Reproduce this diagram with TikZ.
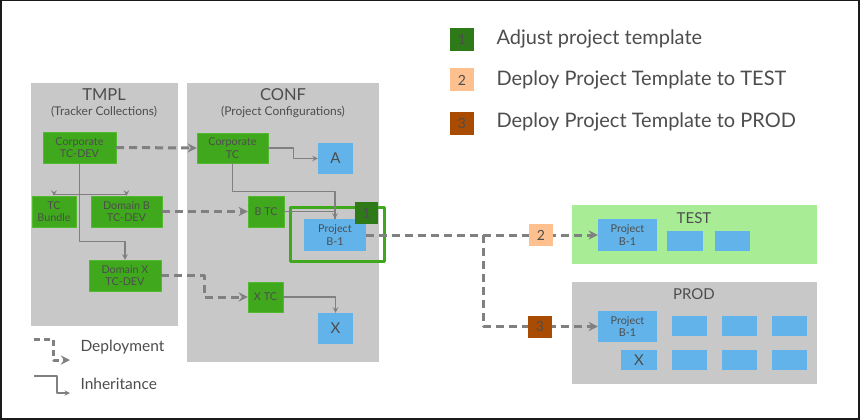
\documentclass[tikz,border=0pt]{standalone}
\usepackage{fontspec}
\setmainfont{Lato}
\definecolor{panelgray}{HTML}{C8C8C8}
\definecolor{tcgreen}{HTML}{40A81C}
\definecolor{tcedge}{HTML}{52B82E}
\definecolor{cfgblue}{HTML}{62B3E9}
\definecolor{testgreen}{HTML}{A8EC95}
\definecolor{stepone}{HTML}{2F7A18}
\definecolor{steptwo}{HTML}{FFC08F}
\definecolor{stepthree}{HTML}{A94C02}
\definecolor{linegray}{HTML}{808080}
\definecolor{txtgray}{HTML}{4D4D4D}
\definecolor{framecol}{HTML}{1A1A1A}
\begin{document}
\begin{tikzpicture}[x=1pt,y=-1pt,line join=round,>=stealth,
	panel/.style={fill=panelgray,draw=none},
	tc/.style={fill=tcgreen,draw=tcedge,text=txtgray,align=center,inner sep=0,font=\fontsize{10.8}{12.5}\selectfont},
	cfg/.style={fill=cfgblue,draw=none,text=txtgray,align=center,inner sep=0,font=\fontsize{10.8}{12.5}\selectfont},
	blk/.style={fill=cfgblue,draw=none,minimum width=35,minimum height=20,inner sep=0},
	badge/.style={draw=none,text=txtgray,inner sep=0,minimum width=24,minimum height=22,font=\fontsize{14}{14}\selectfont},
	dep/.style={draw=linegray,line width=3pt,dash pattern=on 8pt off 5pt},
	inh/.style={draw=linegray,line width=1.4pt},
	ttl/.style={text=txtgray,font=\fontsize{16.5}{16.5}\selectfont},
	sub/.style={text=txtgray,font=\fontsize{12}{12}\selectfont},
	key/.style={anchor=west,text=txtgray,font=\fontsize{20}{20}\selectfont}]
	% frame
	\fill[framecol] (0,0) rectangle (860,420);
	\fill[white] (1.5,1.5) rectangle (857.5,417.5);
	\useasboundingbox (0,0) rectangle (860,420);
	% panels
	\fill[panel] (31,83) rectangle (178,326);
	\fill[panel] (187,83) rectangle (379,362);
	\fill[testgreen] (572,205) rectangle (817,264);
	\fill[panel] (572,282) rectangle (817,384);
	\node[ttl] (tmpl) at (104,95) {TMPL};
	\node[sub] (tmplsub) at (104,112) {(Tracker Collections)};
	\node[ttl] (conf) at (283,95) {CONF};
	\node[sub] (confsub) at (283,112) {(Project Configurations)};
	\node[ttl,font=\fontsize{15}{15}\selectfont] (test) at (694,218) {TEST};
	\node[ttl,font=\fontsize{15}{15}\selectfont] (prod) at (694,294) {PROD};
	% TMPL
	\node[tc,minimum width=73,minimum height=31] (corpdev) at (79.5,147.5) {Corporate\\TC-DEV};
	\node[tc,minimum width=44,minimum height=31] (bundle) at (54,211.5) {TC\\Bundle};
	\node[tc,minimum width=71,minimum height=31] (domb) at (126.5,211.5) {Domain B\\TC-DEV};
	\node[tc,minimum width=72,minimum height=31] (domx) at (125,275.5) {Domain X\\TC-DEV};
	% CONF
	\node[tc,minimum width=71,minimum height=30] (corptc) at (232.5,148) {Corporate\\TC};
	\node[tc,minimum width=36,minimum height=31] (btc) at (266,211.5) {B TC};
	\node[tc,minimum width=35,minimum height=30] (xtc) at (265.5,297) {X TC};
	\node[cfg,minimum width=35,minimum height=31,font=\fontsize{15}{15}\selectfont] (A) at (335.5,158.5) {A};
	\node[cfg,minimum width=62,minimum height=32] (pb) at (335,235) {Project\\B-1};
	\node[cfg,minimum width=35,minimum height=31,font=\fontsize{15}{15}\selectfont] (X) at (335.5,328.5) {X};
	\node[draw=tcgreen,line width=3pt,minimum width=94,minimum height=54,inner sep=0] (focus) at (337,234) {};
	\node[badge,fill=stepone,minimum width=23] (one) at (366.5,213) {1};
	% TEST
	\node[cfg,minimum width=59,minimum height=32] (testpb) at (627.5,235) {Project\\B-1};
	\node[blk,minimum width=36] (testa) at (685,241) {};
	\node[blk] (testb) at (732.5,241) {};
	% PROD
	\node[cfg,minimum width=59,minimum height=31] (prodpb) at (627.5,326.5) {Project\\B-1};
	\node[cfg,minimum width=36,minimum height=20,font=\fontsize{15}{15}\selectfont] (prodx) at (639,360) {X};
	\foreach \i/\xx in {a/689.5,b/739.5,c/789.5}{
		\node[blk] (prod\i1) at (\xx,326) {};
		\node[blk] (prod\i2) at (\xx,360) {};
	}
	% inheritance
	\draw[inh,->] (corpdev.south) -- ++(0,31.5) -| (bundle.north);
	\draw[inh,->] (corpdev.south) -- ++(0,31.5) -| (domb.north);
	\draw[inh,->] (corpdev.south) -- ++(0,78) -| (domx.north);
	\draw[inh,->] (corptc.east) -- ++(25,0) |- (A.west);
	\draw[inh,->] (corptc.south) -- ++(0,28) -| (pb.north);
	\draw[inh] (btc.east) -| (pb.north);
	\draw[inh,->] (xtc.east) -| (X.north);
	% deployment
	\draw[dep,->] (corpdev.east) -- (corptc.west);
	\draw[dep,->] (domb.east) -- (btc.west);
	\draw[dep,->] (domx.east) -- ++(43,0) |- (xtc.west);
	\coordinate (split) at (483,235);
	\draw[dep,->] (pb.east) -- (testpb.west);
	\draw[dep,->] (split) |- (prodpb.west);
	\node[badge,fill=steptwo] (two) at (541,235) {2};
	\node[badge,fill=stepthree] (three) at (540,326.5) {3};
	% legend
	\node[badge,fill=stepone,minimum height=23] (keyone) at (462,39.5) {1};
	\node[badge,fill=steptwo,minimum height=23] (keytwo) at (462,80) {2};
	\node[badge,fill=stepthree,minimum height=23] (keythree) at (462,123) {3};
	\node[key] (adjust) at (493,39) {Adjust project template};
	\node[key] (totest) at (493,80) {Deploy Project Template to TEST};
	\node[key] (toprod) at (493,122) {Deploy Project Template to PROD};
	\coordinate (keydep) at (34,339);
	\coordinate (keyinh) at (34,376);
	\draw[dep,dash pattern=on 6pt off 4pt,->] (keydep) -- ++(19,0) |- ++(17,21);
	\draw[inh,->] (keyinh) -- ++(23,0) |- ++(13,17);
	\node[anchor=west,text=txtgray,font=\fontsize{15.5}{15.5}\selectfont] (deplbl) at (77,347) {Deployment};
	\node[anchor=west,text=txtgray,font=\fontsize{15.5}{15.5}\selectfont] (inhlbl) at (77,384) {Inheritance};
\end{tikzpicture}
\end{document}
